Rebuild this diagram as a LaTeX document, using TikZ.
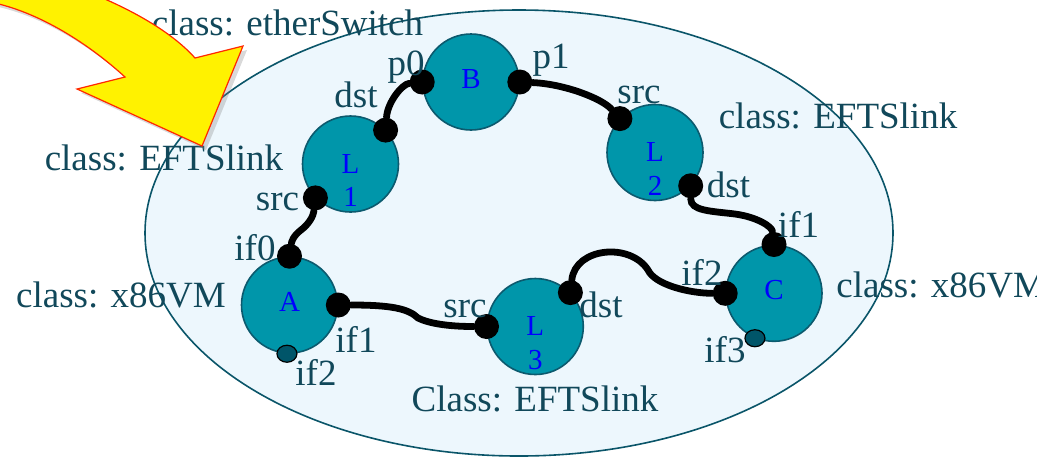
\documentclass[tikz,border=0pt]{standalone}
\usepackage{fontspec}
\setmainfont{Liberation Serif}
\usetikzlibrary{shapes.geometric,shadows}

\definecolor{labelcol}{RGB}{17,72,90}
\definecolor{unitfill}{RGB}{0,150,170}
\definecolor{unitline}{RGB}{12,90,110}
\definecolor{zonefill}{RGB}{237,247,253}
\definecolor{zoneline}{RGB}{10,85,105}
\definecolor{stubfill}{RGB}{0,85,105}
\definecolor{arrowline}{RGB}{255,40,0}

\tikzset{
  zone/.style={ellipse, draw=zoneline, line width=0.8pt, fill=zonefill, inner sep=0pt},
  unit/.style={circle, draw=unitline, line width=0.8pt, fill=unitfill, minimum size=48pt, inner sep=0pt},
  port/.style={circle, fill=black, minimum size=12.5pt, inner sep=0pt},
  stub/.style={ellipse, draw=black, line width=0.6pt, fill=stubfill, minimum width=10pt, minimum height=8.5pt, inner sep=0pt},
  wire/.style={line width=3.4pt, line cap=round},
  lab/.style={text=labelcol, font=\fontsize{18.5}{22}\selectfont, inner sep=0pt, anchor=base},
  ident/.style={text=blue, font=\fontsize{14.5}{16.75}\selectfont, inner sep=0pt, align=center},
}

\begin{document}
\begin{tikzpicture}[x=0.5pt,y=-0.5pt]

    \useasboundingbox (0,0) rectangle (1053,457);

    % Draw the switch domain
    \node[zone, minimum width=374pt, minimum height=223pt] (net) at (519,233) {};

    % Draw the class labels
    \node[lab] (swlab) at (287.5,35) {class: etherSwitch};
    \node[lab] (lonelab) at (164,170) {class: EFTSlink};
    \node[lab] (ltwolab) at (838,128) {class: EFTSlink};
    \node[lab] (avmlab) at (121,307) {class: x86VM};
    \node[lab] (lthreelab) at (535,411) {Class: EFTSlink};
    \begin{scope}
        \clip (0,0) rectangle (1036,457);
        \node[lab, anchor=base west] (cvmlab) at (836,297) {class: x86VM};
    \end{scope}

    % Draw the units
    \node[unit] (B) at (471,82) {};
    \node[unit] (L1) at (350.5,164) {};
    \node[unit] (L2) at (655,152.5) {};
    \node[unit] (A) at (289.5,305) {};
    \node[unit] (L3) at (535.3,326.5) {};
    \node[unit] (C) at (774,293.3) {};

    \node[ident, anchor=base] (Bname) at ([yshift=-3.25pt]B.center) {B};
    \node[ident, anchor=base] (Aname) at ([yshift=-3.25pt]A.center) {A};
    \node[ident, anchor=base] (Cname) at ([yshift=-3.25pt]C.center) {C};
    \node[ident, anchor=north] (L1name) at ([yshift=5pt]L1.center) {L\\1};
    \node[ident, anchor=north] (L2name) at ([yshift=5pt]L2.center) {L\\2};
    \node[ident, anchor=north] (L3name) at ([yshift=5pt]L3.center) {L\\3};

    % Draw the ports
    \node[port] (Bp0) at (B.west) {};
    \node[port] (Bp1) at (B.east) {};
    \node[port] (L1dst) at (L1.44) {};
    \node[port] (L1src) at (L1.224) {};
    \node[port] (L2src) at (L2.136) {};
    \node[port] (L2dst) at (L2.-43) {};
    \node[port] (Aif0) at (A.north) {};
    \node[port] (Aif1) at (A.east) {};
    \node[stub] (Aif2) at (A.267) {};
    \node[port] (L3src) at (L3.west) {};
    \node[port] (L3dst) at (L3.44) {};
    \node[port] (Cif1) at (C.north) {};
    \node[port] (Cif2) at (C.west) {};
    \node[stub] (Cif3) at (C.247) {};

    % Draw the links
    \draw[wire] (L1dst) .. controls +(2,-28) and +(-20,2) .. (Bp0);
    \draw[wire] (Bp1) .. controls +(45,2) and +(-18,-20) .. (L2src);
    \draw[wire] (L2dst) .. controls +(0,25) and +(-25,-3) .. (735,214) .. controls +(22,3) and +(-2,-18) .. (Cif1);
    \draw[wire] (L3dst) .. controls +(5,-45) and +(-18,-28) .. (648,270) .. controls +(7,15) and +(-35,0) .. (Cif2);
    \draw[wire] (Aif1) .. controls +(50,0) and +(-10,-10) .. (418,318) .. controls +(10,5) and +(-40,0) .. (L3src);
    \draw[wire] (L1src) .. controls +(-2,18) and +(8,-6) .. (301,230) .. controls +(-8,6) and +(2,-14) .. (Aif0);

    % Draw the port names
    \node[lab] (p0lab) at (406,75) {p0};
    \node[lab] (p1lab) at (551,68) {p1};
    \node[lab] (l1dstlab) at (356,107) {dst};
    \node[lab] (l1srclab) at (277.5,210) {src};
    \node[lab] (l2srclab) at (639,103) {src};
    \node[lab] (l2dstlab) at (728.5,197) {dst};
    \node[lab] (aif0lab) at (255,260) {if0};
    \node[lab] (aif1lab) at (356,352) {if1};
    \node[lab] (aif2lab) at (316,385) {if2};
    \node[lab] (l3srclab) at (465,317) {src};
    \node[lab] (l3dstlab) at (601,317) {dst};
    \node[lab] (cif1lab) at (798.5,237) {if1};
    \node[lab] (cif2lab) at (702,285) {if2};
    \node[lab] (cif3lab) at (725,362) {if3};

    % Draw the pointer arrow
    \draw[fill=yellow, draw=arrowline, line width=0.6pt, line join=miter,
          drop shadow={shadow xshift=2pt, shadow yshift=-2pt, opacity=0.3}]
        (40,-25) .. controls (120,0) and (170,30) .. (195,58) -- (243,46) -- (202,146)
        -- (77,89) -- (125,77) .. controls (90,45) and (40,12) .. (-10,2)
        -- (-10,-60) -- (40,-60) -- cycle;

\end{tikzpicture}
\end{document}
